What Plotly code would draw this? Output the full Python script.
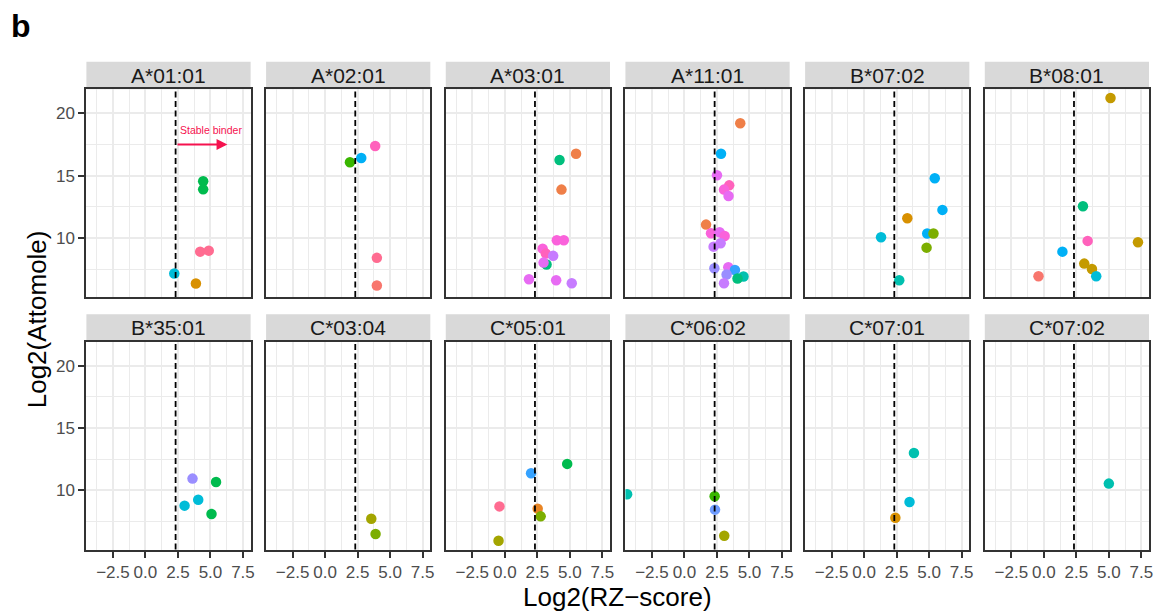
import plotly.graph_objects as go

W, H = 1159, 613

alleles = ["A*01:01", "A*02:01", "A*03:01", "A*11:01", "B*07:02", "B*08:01",
           "B*35:01", "C*03:04", "C*05:01", "C*06:02", "C*07:01", "C*07:02"]

x_ticks = [-2.5, 0, 2.5, 5, 7.5]
x_tick_labels = ["\u22122.5", "0.0", "2.5", "5.0", "7.5"]
y_ticks = [10, 15, 20]
threshold = 2.32

# ---- per-panel data: Log2(RZ-score), Log2(Attomole), colour group ----
a0101_x = [4.44, 4.44, 4.21, 4.87, 2.22, 3.88]
a0101_y = [14.55, 13.90, 8.90, 8.98, 7.14, 6.34]
a0101_g = ["green", "green", "rose", "rose", "cyan", "amber"]

a0201_x = [3.85, 2.78, 1.91, 3.98, 3.98]
a0201_y = [17.38, 16.42, 16.07, 8.40, 6.18]
a0201_g = ["pink", "blue", "green2", "rose", "salmon"]

a0301_x = [5.48, 4.21, 4.36, 4.00, 4.54, 2.91, 3.21, 3.16, 3.72, 2.98, 1.86, 3.95, 5.15]
a0301_y = [16.76, 16.26, 13.88, 9.81, 9.81, 9.14, 7.86, 8.74, 8.56, 8.02, 6.68, 6.60, 6.36]
a0301_g = ["orange", "tealgreen", "orange", "pinkmag", "pinkmag", "pinkmag", "tealgreen",
           "pink", "purple", "magenta", "magenta", "magenta", "purple"]

a1101_x = [4.29, 2.81, 2.50, 3.44, 3.04, 3.39, 1.66, 2.04, 2.70, 3.09, 2.78, 2.24,
           2.30, 3.37, 3.88, 3.24, 4.54, 4.08, 3.04]
a1101_y = [19.20, 16.76, 15.03, 14.22, 13.88, 13.37, 11.07, 10.37, 10.45, 10.16, 9.57, 9.30,
           7.57, 7.65, 7.43, 7.06, 6.90, 6.74, 6.36]
a1101_g = ["orange", "blue", "magenta", "pink", "pinkmag", "magenta", "orange", "pinkmag",
           "magenta", "pinkmag", "purple", "purple", "periwinkle", "magenta", "blue2",
           "periwinkle", "teal", "tealgreen", "purple"]

b0702_x = [5.43, 6.02, 3.32, 4.85, 5.33, 4.80, 1.30, 2.70]
b0702_y = [14.79, 12.25, 11.58, 10.35, 10.35, 9.22, 10.05, 6.60]
b0702_g = ["blue", "blue", "amber", "blue", "lime", "lime", "cyan", "teal"]

b0801_x = [5.13, 3.01, 3.37, 7.24, 1.43, 3.11, 3.70, 4.03, -0.41]
b0801_y = [21.23, 12.54, 9.76, 9.65, 8.90, 7.94, 7.51, 6.93, 6.93]
b0801_g = ["gold", "tealgreen", "pink", "gold", "blue", "gold", "gold", "cyan", "salmon"]

b3501_x = [3.62, 5.43, 4.06, 3.01, 5.08]
b3501_y = [10.94, 10.67, 9.25, 8.77, 8.10]
b3501_g = ["periwinkle", "green", "cyan", "cyan", "green"]

c0304_x = [3.55, 3.88]
c0304_y = [7.72, 6.49]
c0304_g = ["olive", "lime"]

c0501_x = [4.80, 2.02, -0.41, 2.53, 2.76, -0.48]
c0501_y = [12.12, 11.37, 8.71, 8.53, 7.91, 5.95]
c0501_g = ["green", "blue2", "rose", "orange2", "lime", "olive"]

c0602_x = [-4.41, 2.32, 2.35, 3.06]
c0602_y = [9.68, 9.52, 8.45, 6.35]
c0602_g = ["teal", "green2", "periwinkle2", "olive"]

c0701_x = [3.83, 3.49, 2.40]
c0701_y = [13.00, 9.06, 7.80]
c0701_g = ["teal", "cyan", "amber"]

c0702_x = [5.00]
c0702_y = [10.54]
c0702_g = ["teal"]

panels_x = [a0101_x, a0201_x, a0301_x, a1101_x, b0702_x, b0801_x,
            b3501_x, c0304_x, c0501_x, c0602_x, c0701_x, c0702_x]
panels_y = [a0101_y, a0201_y, a0301_y, a1101_y, b0702_y, b0801_y,
            b3501_y, c0304_y, c0501_y, c0602_y, c0701_y, c0702_y]
panels_g = [a0101_g, a0201_g, a0301_g, a1101_g, b0702_g, b0801_g,
            b3501_g, c0304_g, c0501_g, c0602_g, c0701_g, c0702_g]

palette = {
    "salmon": "#F8766D", "orange": "#EF7F48", "orange2": "#E98524", "amber": "#D89000",
    "gold": "#C49A00", "olive": "#A3A500", "lime": "#7CAE00", "green2": "#39B600",
    "green": "#00BB4E", "tealgreen": "#00BF7D", "teal": "#00C0AF", "cyan": "#00BCD8",
    "blue": "#00B0F6", "blue2": "#35A2FF", "periwinkle": "#9A8EFF", "periwinkle2": "#6E9CFF",
    "purple": "#C77CFF", "magenta": "#E76BF3", "pinkmag": "#FA62DB", "pink": "#FF62BC",
    "rose": "#FF6C91",
}

# ---- layout geometry (pixels) ----
col_x0 = [86.7 + i * 180.3 for i in range(6)]
pw = 164.8
row_top = [89.3, 341.7]
ph = 207.8
strip_h = 27.5
x_range = [-4.54, 8.09]
y_range = [5.25, 21.93]

fig = go.Figure()
layout = dict(
    width=W, height=H, margin=dict(l=0, r=0, t=0, b=0),
    paper_bgcolor="white", plot_bgcolor="white", showlegend=False,
    font=dict(family="Liberation Sans, Arial, sans-serif"),
)
shapes = []
annotations = []

for i, name in enumerate(alleles):
    r, c = divmod(i, 6)
    k = "" if i == 0 else str(i + 1)
    x0 = col_x0[c]
    top = row_top[r]
    xd = [x0 / W, (x0 + pw) / W]
    yd = [1 - (top + ph) / H, 1 - top / H]
    bottom = (r == 1)
    left = (c == 0)
    layout["xaxis" + k] = dict(
        domain=xd, anchor="y" + k, range=x_range, tickvals=x_ticks, ticktext=x_tick_labels,
        showticklabels=bottom, ticks="outside" if bottom else "", ticklen=6, tickwidth=2,
        tickcolor="#333333", tickfont=dict(size=17, color="#4D4D4D"),
        showgrid=True, gridcolor="#EBEBEB", gridwidth=1.5, zeroline=False,
        minor=dict(tickvals=[-3.75, -1.25, 1.25, 3.75, 6.25], showgrid=True,
                   gridcolor="#EBEBEB", gridwidth=1.3, ticks=""),
        showline=True, mirror=True, linecolor="#333333", linewidth=2, fixedrange=True,
    )
    layout["yaxis" + k] = dict(
        domain=yd, anchor="x" + k, range=y_range, tickvals=y_ticks,
        showticklabels=left, ticks="outside" if left else "", ticklen=6, tickwidth=2,
        tickcolor="#333333", tickfont=dict(size=17, color="#4D4D4D"),
        showgrid=True, gridcolor="#EBEBEB", gridwidth=1.5, zeroline=False,
        minor=dict(tickvals=[7.5, 12.5, 17.5], showgrid=True,
                   gridcolor="#EBEBEB", gridwidth=1.3, ticks=""),
        showline=True, mirror=True, linecolor="#333333", linewidth=2, fixedrange=True,
    )
    # strip
    shapes.append(dict(type="rect", xref="paper", yref="paper",
                       x0=xd[0], x1=xd[1], y0=1 - top / H, y1=1 - (top - strip_h) / H,
                       fillcolor="#D9D9D9", line=dict(width=0), layer="below"))
    annotations.append(dict(xref="paper", yref="paper", x=(xd[0] + xd[1]) / 2,
                            y=1 - (top - strip_h / 2) / H, text=name, showarrow=False,
                            font=dict(size=21, color="#1A1A1A"), xanchor="center", yanchor="middle"))
    # threshold line
    shapes.append(dict(type="line", xref="x" + k, yref="y" + k + " domain",
                       x0=threshold, x1=threshold, y0=0, y1=1,
                       line=dict(color="black", width=1.8, dash="6px,3.5px")))
    fig.add_trace(go.Scatter(
        x=panels_x[i], y=panels_y[i], mode="markers", xaxis="x" + k, yaxis="y" + k,
        marker=dict(size=10.5, color=[palette[g] for g in panels_g[i]], line=dict(width=0)),
        hoverinfo="skip", cliponaxis=True,
    ))

# stable binder annotation (panel 1)
annotations.append(dict(xref="x", yref="y", x=6.3, y=17.5, ax=2.35, ay=17.5,
                        axref="x", ayref="y", text="", showarrow=True, arrowhead=2,
                        arrowsize=1.2, arrowwidth=1.8, arrowcolor="#F5124F"))
annotations.append(dict(xref="x", yref="y", x=5.05, y=18.7, text="Stable binder",
                        showarrow=False, font=dict(size=10.5, color="#F5124F"),
                        xanchor="center", yanchor="middle"))

# axis titles
annotations.append(dict(xref="paper", yref="paper", x=(col_x0[0] + col_x0[5] + pw) / 2 / W,
                        y=1 - 597 / H, text="Log2(RZ\u2212score)", showarrow=False,
                        font=dict(size=26, color="black"), xanchor="center", yanchor="middle"))
annotations.append(dict(xref="paper", yref="paper", x=38 / W,
                        y=1 - (row_top[0] + row_top[1] + ph) / 2 / H, text="Log2(Attomole)",
                        showarrow=False, textangle=-90,
                        font=dict(size=26, color="black"), xanchor="center", yanchor="middle"))
annotations.append(dict(xref="paper", yref="paper", x=21 / W, y=1 - 26 / H, text="<b>b</b>",
                        showarrow=False, font=dict(size=32, color="black"),
                        xanchor="center", yanchor="middle"))

layout["shapes"] = shapes
layout["annotations"] = annotations
fig.update_layout(**layout)
fig.write_html("out.html")
